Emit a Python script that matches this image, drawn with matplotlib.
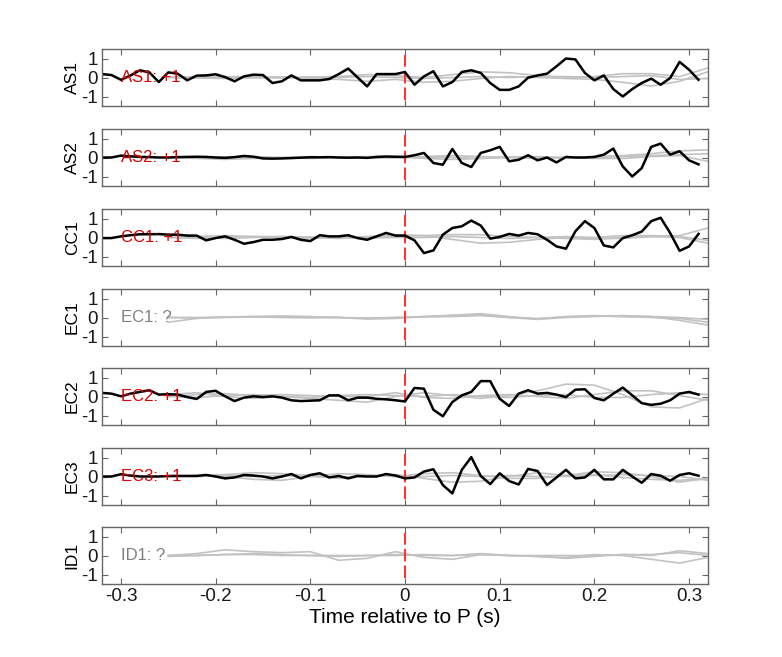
import matplotlib
matplotlib.use("Agg")
import matplotlib.pyplot as plt
import numpy as np

plt.rcParams['font.family'] = ['Liberation Sans', 'DejaVu Sans']
plt.rcParams['axes.unicode_minus'] = False

# station names and the label shown inside each panel
stations = ['AS1', 'AS2', 'CC1', 'EC1', 'EC2', 'EC3', 'ID1']
polarity = ['+1', '+1', '+1', '?', '+1', '+1', '?']

# black trace: samples every 0.01 s from -0.32 to 0.31
t_black = [round(-0.32 + 0.01 * k, 2) for k in range(64)]

black = {
    'AS1': [0.18, 0.13, -0.12, 0.10, 0.38, 0.27, -0.24, 0.27, 0.20, -0.15,
            0.10, 0.11, 0.17, 0.02, -0.20, 0.06, 0.15, 0.13, -0.29, -0.20,
            0.11, -0.15, -0.15, -0.15, -0.08, 0.18, 0.47, 0.00, -0.47, 0.18,
            0.18, 0.18,
            0.29, -0.38, 0.06, 0.33, -0.47, -0.24, 0.29, 0.38, 0.24, -0.29,
            -0.65, -0.65, -0.47, -0.01, 0.11, 0.20, 0.59, 1.00, 0.95, 0.24,
            -0.15, 0.11, -0.61, -1.00, -0.61, -0.29, -0.06, -0.38, -0.03, 0.82,
            0.41, -0.12],
    'AS2': [0.00, 0.00, 0.10, 0.06, 0.03, 0.02, 0.00, 0.00, 0.02, 0.03,
            0.04, 0.03, 0.00, -0.02, 0.02, 0.08, 0.04, -0.05, -0.06, -0.05,
            -0.03, -0.01, 0.01, 0.01, 0.02, 0.00, -0.01, 0.00, -0.02, 0.03,
            0.05, 0.04,
            0.03, 0.12, 0.24, -0.29, -0.38, 0.45, -0.29, -0.50, 0.24, 0.38,
            0.56, -0.20, -0.12, 0.12, -0.15, 0.00, -0.26, 0.03, 0.00, 0.00,
            0.03, 0.15, 0.47, -0.47, -1.00, -0.56, 0.56, 0.73, 0.15, 0.33,
            -0.15, -0.36],
    'CC1': [-0.03, -0.03, 0.06, 0.12, 0.17, 0.17, 0.18, 0.15, 0.15, 0.10,
            0.10, -0.15, -0.03, 0.06, -0.12, -0.33, -0.24, -0.12, -0.12, -0.08,
            0.03, -0.12, -0.19, 0.12, 0.06, 0.06, 0.12, -0.03, -0.12, 0.06,
            0.24, 0.10,
            0.10, -0.15, -0.82, -0.68, 0.15, 0.50, 0.59, 0.89, 0.63, -0.06,
            0.03, 0.19, 0.10, 0.24, 0.17, -0.12, -0.47, -0.59, 0.33, 0.86,
            0.50, -0.42, -0.52, -0.03, 0.12, 0.31, 0.86, 1.04, 0.24, -0.70,
            -0.47, 0.19],
    'EC2': [0.19, 0.15, 0.01, 0.15, 0.24, 0.33, 0.10, 0.12, 0.10, -0.03,
            -0.13, 0.24, 0.30, 0.01, -0.24, -0.06, 0.01, -0.03, 0.01, -0.06,
            -0.20, -0.24, -0.22, -0.20, 0.06, 0.06, -0.20, -0.06, -0.06, -0.12,
            -0.15, -0.20,
            -0.26, 0.45, 0.41, -0.70, -1.04, -0.29, 0.06, 0.24, 0.81, 0.81,
            -0.12, -0.50, 0.15, 0.33, 0.15, 0.19, 0.10, -0.03, 0.36, 0.38,
            -0.08, -0.20, 0.15, 0.47, 0.06, -0.35, -0.44, -0.38, -0.20, 0.15,
            0.24, 0.10],
    'EC3': [0.00, 0.00, 0.12, 0.05, 0.00, 0.00, 0.00, 0.03, 0.03, 0.03,
            0.03, 0.08, 0.00, -0.10, -0.05, 0.08, 0.05, 0.00, -0.10, 0.00,
            0.13, -0.10, 0.08, 0.17, -0.05, 0.03, -0.10, 0.03, 0.00, 0.00,
            0.13, 0.05,
            -0.10, -0.05, 0.26, 0.38, -0.45, -0.89, 0.35, 1.02, 0.03, -0.40,
            0.17, -0.24, -0.42, 0.40, 0.29, -0.45, -0.05, 0.35, -0.10, -0.05,
            0.35, -0.15, -0.15, 0.35, 0.00, -0.33, 0.13, 0.04, -0.22, 0.08,
            0.17, 0.04],
}

# grey traces: samples every 0.03 s from -0.25 to 0.32
t_grey = [round(-0.25 + 0.03 * k, 2) for k in range(20)]

grey = {
    'AS1': [[0.0, 0.02, 0.05, 0.03, -0.02, 0.0, 0.05, 0.15, 0.1, 0.0, 0.15, 0.3, 0.25, 0.1, 0.0, 0.05, 0.2, 0.2, 0.05, 0.5],
            [0.0, -0.03, -0.05, 0.0, 0.03, -0.05, -0.1, -0.2, -0.1, -0.25, -0.2, -0.05, 0.05, 0.0, -0.05, -0.1, -0.25, -0.45, -0.2, 0.3],
            [0.05, 0.0, 0.02, -0.02, 0.0, 0.03, 0.0, 0.05, 0.0, -0.05, 0.0, 0.05, 0.0, 0.05, 0.05, 0.0, 0.05, 0.1, -0.1, -0.05]],
    'AS2': [[0.0, -0.05, -0.1, -0.05, 0.0, 0.05, 0.0, -0.03, 0.0, 0.05, 0.1, 0.05, 0.0, -0.05, 0.0, 0.05, 0.1, 0.2, 0.35, 0.4],
            [0.0, 0.02, 0.0, 0.05, 0.0, -0.05, 0.0, 0.05, 0.05, -0.05, -0.1, -0.05, 0.0, 0.05, 0.0, -0.05, -0.05, 0.05, 0.1, -0.2],
            [0.0, 0.0, 0.03, 0.0, -0.03, 0.0, 0.03, 0.0, -0.02, 0.02, 0.0, -0.05, 0.03, 0.0, -0.03, 0.0, 0.05, 0.1, 0.15, 0.2]],
    'CC1': [[0.0, 0.05, 0.1, 0.05, 0.0, -0.05, 0.0, 0.05, 0.15, 0.1, -0.1, -0.3, -0.25, -0.1, 0.0, -0.05, -0.05, 0.05, 0.1, 0.5],
            [0.0, -0.05, 0.0, 0.05, 0.05, 0.0, -0.05, 0.0, 0.05, 0.1, 0.15, 0.15, 0.05, 0.0, -0.05, -0.1, 0.0, 0.05, 0.0, -0.3],
            [0.0, 0.0, -0.05, 0.0, 0.05, 0.03, 0.0, -0.03, 0.0, 0.0, 0.05, 0.0, -0.05, 0.0, 0.05, 0.0, 0.1, 0.1, 0.05, -0.15]],
    'EC1': [[0.0, 0.0, 0.03, 0.05, 0.05, 0.03, 0.0, -0.08, -0.05, 0.05, 0.12, 0.2, 0.05, -0.08, 0.05, 0.1, 0.05, 0.05, 0.0, -0.1],
            [-0.25, -0.05, 0.02, 0.05, 0.08, 0.05, 0.0, -0.05, 0.0, 0.05, 0.1, 0.15, 0.0, -0.1, 0.0, 0.05, 0.1, 0.05, -0.15, -0.4],
            [0.0, -0.02, 0.0, 0.03, 0.0, -0.02, 0.0, -0.03, 0.0, 0.03, 0.05, 0.1, 0.0, -0.05, 0.03, 0.08, 0.05, 0.0, -0.05, -0.25]],
    'EC2': [[0.1, 0.2, 0.0, -0.1, 0.0, -0.1, -0.2, -0.3, 0.0, 0.2, 0.05, -0.1, 0.05, 0.3, 0.65, 0.6, 0.1, -0.55, -0.6, -0.1],
            [0.0, 0.1, 0.15, 0.05, 0.1, 0.05, 0.0, 0.0, 0.2, -0.05, -0.1, 0.05, 0.1, 0.0, -0.1, 0.1, 0.3, 0.3, 0.05, -0.2],
            [0.0, -0.05, 0.05, 0.1, 0.0, -0.05, 0.05, 0.1, 0.05, 0.0, 0.1, 0.0, -0.05, 0.05, 0.1, -0.05, -0.05, 0.1, 0.2, 0.1]],
    'EC3': [[0.0, 0.05, 0.1, 0.2, 0.15, 0.05, -0.1, 0.0, 0.1, -0.1, -0.3, -0.25, 0.0, 0.2, 0.05, 0.25, 0.2, 0.0, -0.3, -0.1],
            [0.0, 0.05, 0.0, -0.15, -0.2, 0.0, 0.15, 0.1, 0.0, 0.15, 0.2, 0.05, -0.1, -0.1, 0.05, 0.1, -0.05, -0.15, -0.2, -0.1],
            [0.0, 0.0, 0.05, 0.0, 0.05, 0.0, -0.05, 0.05, 0.0, 0.0, 0.05, 0.0, 0.05, 0.0, 0.0, 0.05, 0.1, 0.05, 0.0, -0.2]],
    'ID1': [[0.0, 0.1, 0.3, 0.2, 0.15, 0.2, -0.25, -0.15, 0.2, -0.1, -0.2, 0.05, 0.0, -0.05, -0.15, -0.05, 0.05, 0.0, 0.25, 0.1],
            [0.0, 0.0, 0.05, 0.1, 0.05, 0.0, -0.05, 0.0, 0.05, 0.0, 0.0, 0.1, 0.0, -0.05, -0.1, 0.05, 0.0, -0.2, -0.4, -0.1],
            [-0.05, 0.0, 0.05, 0.05, 0.0, 0.0, 0.0, 0.0, 0.0, 0.05, 0.0, 0.05, 0.0, 0.0, 0.0, 0.0, 0.05, 0.05, 0.15, 0.0]],
}

xticks = [-0.3, -0.2, -0.1, 0, 0.1, 0.2, 0.3]
xticklabels = ['-0.3', '-0.2', '-0.1', '0', '0.1', '0.2', '0.3']
yticks = [-1, 0, 1]
yticklabels = ['-1', '0', '1']

W, H = 782, 657
fig = plt.figure(figsize=(W / 100, H / 100), dpi=100)

tops = [49, 129, 209, 289, 368, 448, 527]
ph = 57
frame = (0.4, 0.4, 0.4)

for i, st in enumerate(stations):
    ax = fig.add_axes([102 / W, 1 - (tops[i] + ph) / H, 606 / W, ph / H])
    for g in grey[st]:
        ax.plot(t_grey, g, color=(0.76, 0.76, 0.76), lw=1.2)
    ax.plot([0, 0], [-1.2, 1.2], color=(1.0, 0.2, 0.2), lw=1.5,
            dashes=(6, 2))
    if st in black:
        ax.plot(t_black, black[st], color='black', lw=1.8)
        lab_col = (0.85, 0.0, 0.0)
    else:
        lab_col = (0.5, 0.5, 0.5)
    ax.text(-0.3, 0, st + ': ' + polarity[i], color=lab_col, fontsize=12,
            va='center', ha='left')

    ax.set_xlim(-0.32, 0.32)
    ax.set_ylim(-1.5, 1.5)
    ax.set_xticks(xticks)
    ax.set_yticks(yticks)
    ax.set_yticklabels(yticklabels, fontsize=13.5)
    if i == len(stations) - 1:
        ax.set_xticklabels(xticklabels, fontsize=13.5)
        ax.set_xlabel('Time relative to P (s)', fontsize=15, labelpad=2)
    else:
        ax.set_xticklabels([])
    ax.set_ylabel(st, fontsize=12.5, labelpad=1)
    ax.tick_params(direction='in', length=4, width=0.8, color=frame,
                   top=True, right=True, pad=3, labelcolor=(0.1, 0.1, 0.1))
    for s in ax.spines.values():
        s.set_color(frame)
        s.set_linewidth(1.0)

fig.savefig('out.png', dpi=100)
